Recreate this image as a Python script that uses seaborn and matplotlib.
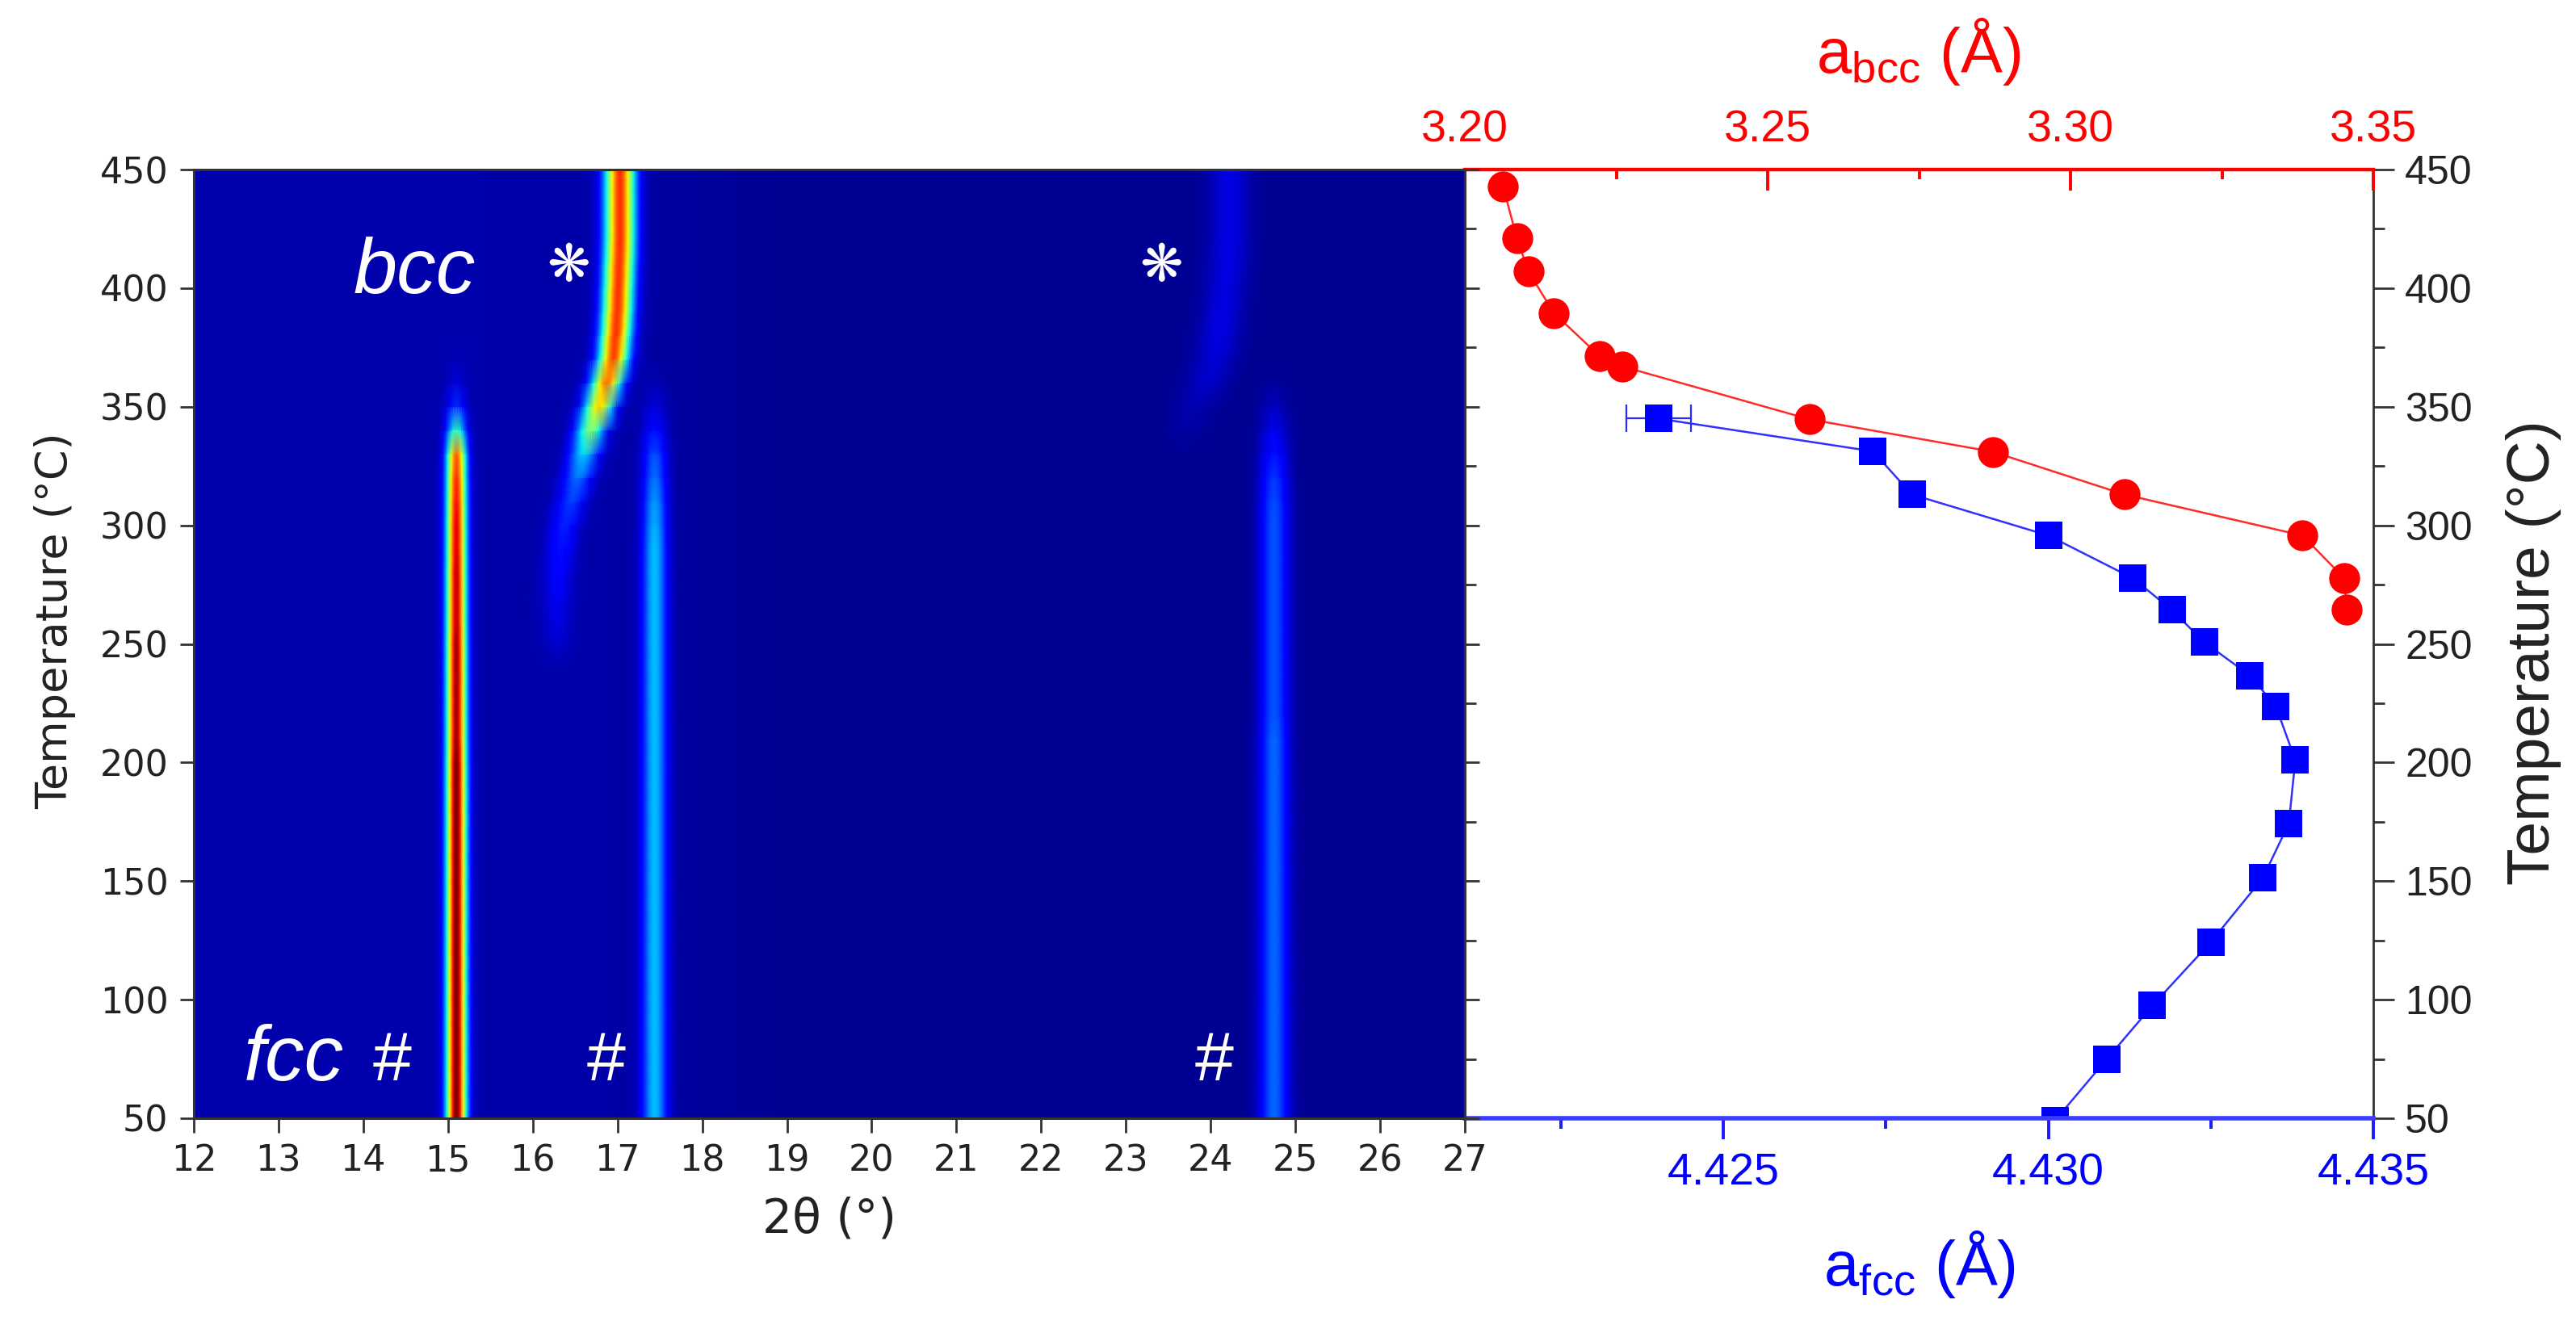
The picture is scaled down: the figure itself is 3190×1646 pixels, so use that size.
import numpy as np
import pandas as pd
import matplotlib
matplotlib.use('Agg')
import matplotlib.pyplot as plt
import seaborn as sns

sns.set_theme(style="ticks")
plt.rcParams['font.family'] = ['Liberation Sans', 'DejaVu Sans']
plt.rcParams['mathtext.fontset'] = 'custom'
plt.rcParams['mathtext.rm'] = 'Liberation Sans'
plt.rcParams['mathtext.default'] = 'regular'

# peak tracks, one value per temperature row
temps = list(range(50, 460, 10))
fcc1_pos = [15.10] * 41
fcc1_amp = [.97, .97, .97, .97, .97, .97, .97, .97, .97, .97,
            .97, .97, .97, .97, .97, .97, .93, .93, .93, .93,
            .93, .90, .90, .90, .88, .88, .85, .82, .76, .38,
            .13, .04, .01, 0, 0, 0, 0, 0, 0, 0, 0]
fcc2_pos = [17.44] * 41
fcc2_amp = [.28, .28, .28, .28, .28, .28, .28, .28, .28, .28,
            .28, .28, .28, .28, .28, .28, .28, .28, .28, .28,
            .28, .28, .28, .28, .28, .26, .24, .20, .17, .10,
            .05, .015, 0, 0, 0, 0, 0, 0, 0, 0, 0]
fcc3_pos = [24.75] * 41
fcc3_amp = [.21, .21, .21, .21, .21, .21, .21, .21, .21, .21,
            .21, .21, .21, .21, .21, .21, .21, .19, .19, .19,
            .19, .19, .19, .19, .19, .19, .18, .16, .12, .08,
            .04, .01, 0, 0, 0, 0, 0, 0, 0, 0, 0]
bcc1_pos = [16.30, 16.30, 16.30, 16.30, 16.30, 16.30, 16.30, 16.30, 16.30, 16.30,
            16.30, 16.30, 16.30, 16.30, 16.30, 16.30, 16.30, 16.30, 16.30, 16.30,
            16.29, 16.29, 16.29, 16.30, 16.33, 16.37, 16.45, 16.53, 16.60, 16.68,
            16.78, 16.87, 16.95, 16.98, 17.00, 17.01, 17.02, 17.03, 17.03, 17.03, 17.03]
bcc1_amp = [0, 0, 0, 0, 0, 0, 0, 0, 0, 0,
            0, 0, 0, 0, 0, 0, 0, 0, 0, 0,
            .03, .05, .065, .08, .10, .12, .15, .20, .30, .47,
            .65, .76, .80, .82, .82, .82, .82, .82, .82, .82, .82]
bcc2_pos = [23.70, 23.70, 23.70, 23.70, 23.70, 23.70, 23.70, 23.70, 23.70, 23.70,
            23.70, 23.70, 23.70, 23.70, 23.70, 23.70, 23.70, 23.70, 23.70, 23.70,
            23.70, 23.70, 23.70, 23.70, 23.70, 23.70, 23.70, 23.70, 23.70, 23.70,
            23.80, 23.95, 24.05, 24.10, 24.14, 24.17, 24.20, 24.22, 24.22, 24.22, 24.22]
bcc2_amp = [0, 0, 0, 0, 0, 0, 0, 0, 0, 0,
            0, 0, 0, 0, 0, 0, 0, 0, 0, 0,
            0, 0, 0, 0, 0, 0, 0, 0, 0, .015,
            .03, .05, .06, .07, .07, .07, .07, .07, .07, .07, .07]
peak_sigma = [0.08, 0.10, 0.12, 0.12, 0.17]
bg_two_theta = [12, 15, 17, 19, 27]
bg_level = [.04, .04, .035, .018, .016]

# lattice parameters
T_bcc = [443, 421, 407, 389.5, 371.2, 367, 344.7, 331, 313, 295.7, 277.7, 264.3]
a_bcc = [3.2063, 3.2086, 3.2105, 3.2147, 3.2223, 3.2260, 3.2569, 3.2872, 3.3089, 3.3383, 3.3452, 3.3456]
T_fcc = [345, 331.2, 313, 295.7, 277.7, 264.3, 250.7, 236.7, 223.7, 201, 174.3, 151.3, 124.3, 97.5, 75, 49]
a_fcc = [4.4240, 4.4273, 4.4279, 4.4300, 4.4313, 4.4319, 4.4324, 4.4331, 4.4335, 4.4338, 4.4337, 4.4333, 4.4325, 4.4316, 4.4309, 4.4301]
a_fcc_err = 0.0005

two_theta_ticks = list(range(12, 28))
temp_ticks = [50, 100, 150, 200, 250, 300, 350, 400, 450]
temp_minor = [75, 125, 175, 225, 275, 325, 375, 425]
bcc_ticks = [3.20, 3.25, 3.30, 3.35]
bcc_labels = ['3.20', '3.25', '3.30', '3.35']
bcc_minor = [3.225, 3.275, 3.325]
fcc_ticks = [4.425, 4.430, 4.435]
fcc_labels = ['4.425', '4.430', '4.435']
fcc_minor = [4.4225, 4.4275, 4.4325]

# intensity map: every row sums the read peaks with a bell line shape
step = 0.02
two_theta = np.arange(12, 27 + step / 2, step)
tracks = [(fcc1_pos, fcc1_amp), (fcc2_pos, fcc2_amp), (fcc3_pos, fcc3_amp),
          (bcc1_pos, bcc1_amp), (bcc2_pos, bcc2_amp)]
intensity = np.tile(np.interp(two_theta, bg_two_theta, bg_level), (len(temps), 1))
for (pos, amp), sig in zip(tracks, peak_sigma):
    d = two_theta[None, :] - np.array(pos)[:, None]
    intensity += np.array(amp)[:, None] * np.exp(-d ** 2 / (2 * sig ** 2))
df = pd.DataFrame(intensity, index=temps, columns=two_theta)


def col(t):
    return (np.asarray(t, dtype=float) - 12) / step


def row(T):
    return (np.asarray(T, dtype=float) - 50) / 10


W, H = 3190, 1646
fig = plt.figure(figsize=(W / 200, H / 200), dpi=200)
ax_map = fig.add_axes([240 / W, 1 - 1385 / H, (1814 - 240) / W, 1175 / H])
ax_fcc = fig.add_axes([1814 / W, 1 - 1385 / H, (2939 - 1814) / W, 1175 / H])

sns.heatmap(df, ax=ax_map, cmap='jet', vmin=0, vmax=1, cbar=False,
            xticklabels=False, yticklabels=False, shading='gouraud')
ax_map.set_xlim(0, len(two_theta) - 1)
ax_map.set_ylim(0, len(temps) - 1)
ax_map.set_zorder(3)
ax_map.set_xticks(col(two_theta_ticks), [str(t) for t in two_theta_ticks], fontfamily='DejaVu Sans', fontsize=16)
ax_map.set_yticks(row(temp_ticks), [str(t) for t in temp_ticks], fontfamily='DejaVu Sans', fontsize=16)
ax_map.set_yticks(row(temp_minor), minor=True)
ax_map.set_xlabel('2θ (°)', fontfamily='DejaVu Sans', fontsize=21, labelpad=8, color='#222222')
ax_map.set_ylabel('')
ax_map.tick_params(axis='both', which='major', length=6.3, width=1.0, color='#333333', labelcolor='#222222', pad=5)
ax_map.tick_params(axis='y', which='major', left=True, right=True, direction='out')
ax_map.tick_params(axis='y', which='minor', left=False, right=True, length=5, width=1.0, color='#333333')
for s in ax_map.spines.values():
    s.set_visible(True)
    s.set_linewidth(1.1)
    s.set_color('#333333')

ax_map.text(col(13.88), row(398), 'bcc', style='italic', color='white', fontsize=35, ha='left', va='baseline')
ax_map.text(col(12.59), row(66), 'fcc', style='italic', color='white', fontsize=35, ha='left', va='baseline')
for t in [14.34, 16.87, 24.04]:
    ax_map.text(col(t), row(66), '#', color='white', fontsize=31, ha='center', va='baseline')
for t in [16.42, 23.42]:
    ax_map.text(col(t), row(409), '❋', family='DejaVu Sans', color='white', fontsize=23, ha='center', va='center')

# right panel
ax_fcc.errorbar(a_fcc[0], T_fcc[0], xerr=a_fcc_err, color='#2a2aff', elinewidth=0.8, capsize=6, capthick=0.8, zorder=1)
sns.lineplot(x=a_fcc, y=T_fcc, ax=ax_fcc, sort=False, estimator=None, color='#3030ff', linewidth=0.9,
             marker='s', markersize=12.3, markerfacecolor='#0000ff', markeredgewidth=0, zorder=2)
ax_fcc.set_xlim(4.42102, 4.435)
ax_fcc.set_ylim(50, 450)
ax_fcc.set_xticks(fcc_ticks, fcc_labels, fontsize=20)
ax_fcc.set_xticks(fcc_minor, minor=True)
ax_fcc.set_yticks(temp_ticks, [str(t) for t in temp_ticks], fontsize=18)
ax_fcc.set_yticks(temp_minor, minor=True)
ax_fcc.set_xlabel('')
ax_fcc.set_ylabel('')
ax_fcc.tick_params(axis='x', which='major', direction='out', length=9.4, width=1.4, color='#1a1aff', labelcolor='#0000ff', pad=6)
ax_fcc.tick_params(axis='x', which='minor', direction='out', length=4.8, width=1.4, color='#1a1aff')
ax_fcc.tick_params(axis='y', which='major', direction='out', left=False, right=True, labelleft=False, labelright=True,
                   length=9.4, width=1.0, color='#333333', labelcolor='#222222', pad=4.7)
ax_fcc.tick_params(axis='y', which='minor', direction='out', left=False, right=True, length=5, width=1.0, color='#333333')
ax_fcc.spines['left'].set_visible(False)
ax_fcc.spines['top'].set_visible(False)
ax_fcc.spines['right'].set_visible(True)
ax_fcc.spines['right'].set_color('#333333')
ax_fcc.spines['right'].set_linewidth(1.0)
ax_fcc.spines['bottom'].set_color('#3c3cff')
ax_fcc.spines['bottom'].set_linewidth(2.0)

ax_bcc = ax_fcc.twiny()
sns.lineplot(x=a_bcc, y=T_bcc, ax=ax_bcc, sort=False, estimator=None, color='#ff2a2a', linewidth=0.9,
             marker='o', markersize=13.8, markerfacecolor='#ff0000', markeredgewidth=0)
ax_bcc.set_xlim(3.20, 3.35)
ax_bcc.set_ylim(50, 450)
ax_bcc.set_xticks(bcc_ticks, bcc_labels, fontsize=20)
ax_bcc.set_xticks(bcc_minor, minor=True)
ax_bcc.set_xlabel('')
ax_bcc.set_ylabel('')
ax_bcc.tick_params(axis='x', which='major', top=True, bottom=False, labeltop=True, labelbottom=False, direction='in',
                   length=9.2, width=1.4, color='#ff0000', labelcolor='#ff0000', pad=8)
ax_bcc.tick_params(axis='x', which='minor', top=True, bottom=False, direction='in', length=4.4, width=1.4, color='#ff0000')
ax_bcc.yaxis.set_visible(False)
for name, s in ax_bcc.spines.items():
    s.set_visible(name == 'top')
ax_bcc.spines['top'].set_color('#ff0000')
ax_bcc.spines['top'].set_linewidth(1.6)

fig.text(2376 / W, 1 - 64 / H, r'a$_{bcc}$ (Å)', color='#ff0000', fontsize=28, ha='center', va='center')
fig.text(2377 / W, 1 - 1566 / H, r'a$_{fcc}$ (Å)', color='#0000ff', fontsize=28, ha='center', va='center')
fig.text(68 / W, 1 - 769 / H, 'Temperature (°C)', family='DejaVu Sans', color='#222222', fontsize=19.5,
         rotation=90, ha='center', va='center')
fig.text(3137 / W, 1 - 808 / H, 'Temperature (°C)', color='#222222', fontsize=27, rotation=90, ha='center', va='center')

fig.savefig('out.png', dpi=200)
